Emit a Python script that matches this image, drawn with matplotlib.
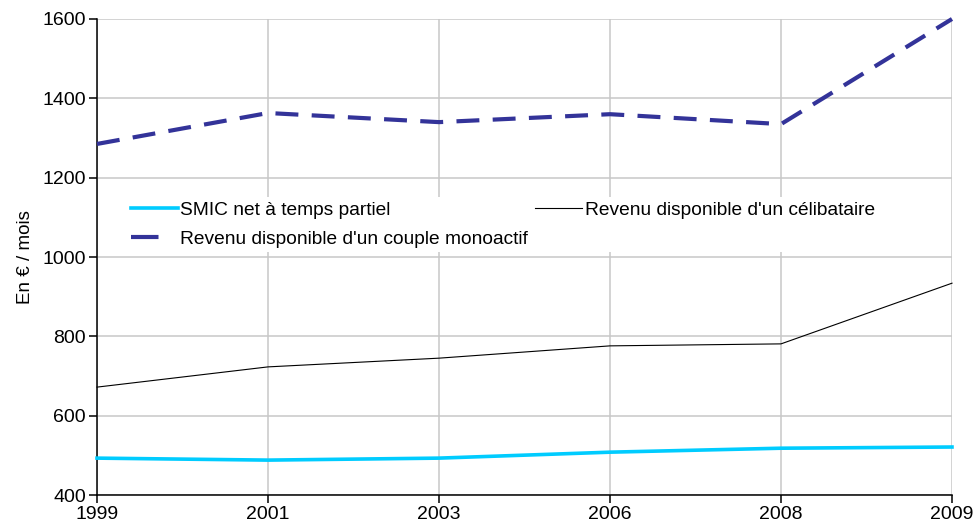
import matplotlib
matplotlib.use("Agg")
import matplotlib.pyplot as plt
from matplotlib.lines import Line2D

plt.rcParams['font.family'] = ['Liberation Sans', 'DejaVu Sans']

years = ["1999", "2001", "2003", "2006", "2008", "2009"]
smic = [493, 488, 493, 508, 518, 521]
celibataire = [672, 723, 745, 776, 781, 934]
couple = [1285, 1363, 1340, 1360, 1335, 1600]
yticks = [400, 600, 800, 1000, 1200, 1400, 1600]

fig = plt.figure(figsize=(9.75, 5.26), dpi=100)
ax = fig.add_axes([0.0995, 0.0589, 0.8769, 0.905])

x = list(range(len(years)))
l1, = ax.plot(x, smic, color='#00CCFF', lw=2.6, label='SMIC net à temps partiel', zorder=3, clip_on=False)
l3, = ax.plot(x, celibataire, color='black', lw=0.8, label="Revenu disponible d'un célibataire", zorder=3, clip_on=False)
l2, = ax.plot(x, couple, color='#333399', lw=3, dashes=(5.5, 3.2), dash_capstyle='butt',
              label="Revenu disponible d'un couple monoactif", zorder=3, clip_on=False)
l2_proxy = Line2D([], [], color='#333399', lw=3, dashes=(6.6, 20), dash_capstyle='butt',
                  label="Revenu disponible d'un couple monoactif")

ax.set_xlim(0, len(years) - 1)
ax.set_ylim(400, 1600)
ax.set_xticks(x)
ax.set_xticklabels(years)
ax.set_yticks(yticks)
ax.grid(True, color='#c8c8c8', lw=1.1)
ax.set_axisbelow(True)
for s in ['top', 'right']:
    ax.spines[s].set_visible(False)
for s in ['left', 'bottom']:
    ax.spines[s].set_color('black')
    ax.spines[s].set_linewidth(1.1)
ax.tick_params(axis='both', direction='out', length=6, width=1.1, labelsize=14, pad=2, colors='black')
ax.set_ylabel('En € / mois', fontsize=13.5, labelpad=6)

leg = ax.legend(handles=[l1, l2_proxy, l3], ncol=2, loc='center left', bbox_to_anchor=(0.034, 0.568),
                frameon=True, fancybox=False, edgecolor='none', facecolor='white', framealpha=1,
                fontsize=13.75, handlelength=2.45, handletextpad=0.12, columnspacing=0.4,
                labelspacing=0.58, borderaxespad=0, borderpad=0.25)
leg.set_zorder(2)

fig.savefig('out.png', dpi=100)
